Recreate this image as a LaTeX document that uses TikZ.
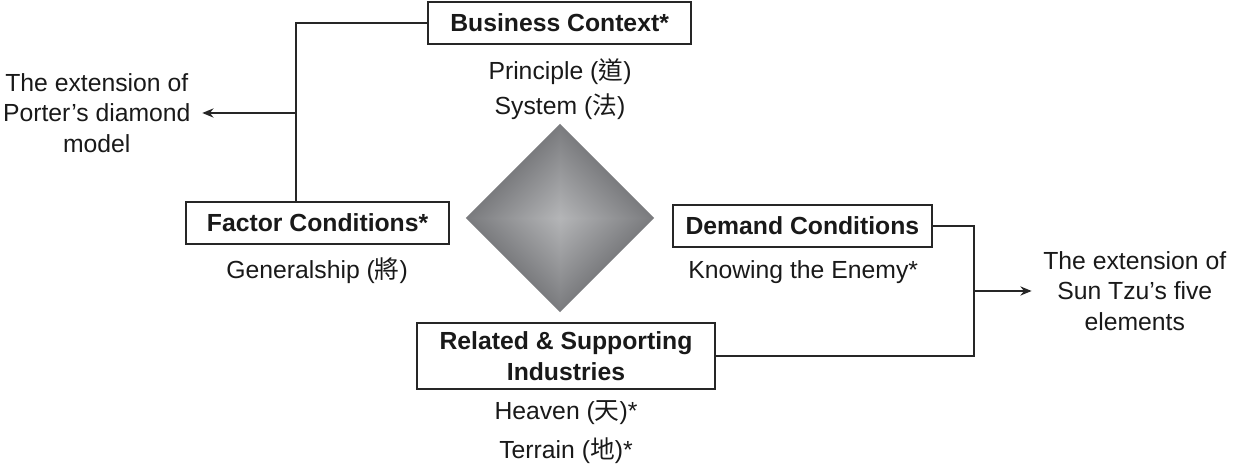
\documentclass[tikz,border=0pt]{standalone}
\usepackage{fontspec}
\setmainfont{Liberation Sans}
\newfontfamily\cjk{Noto Sans CJK TC}
\usetikzlibrary{positioning,arrows.meta,shapes.geometric}
\definecolor{pyrLight}{HTML}{B4B5B7}
\definecolor{pyrDark}{HTML}{7A7B7E}

\begin{document}
\begin{tikzpicture}[>={Stealth[length=8pt,width=6.5pt]}, line width=1.3pt, draw=black!85, text=black!90, font=\fontsize{17.6}{21.8}\selectfont]
	\tikzstyle{elembox}=[rectangle,draw=black!85,line width=1.3pt,font=\fontsize{17.6}{21.8}\selectfont\bfseries,minimum height=1.05cm,inner sep=2pt,align=center]
	\tikzstyle{elemtext}=[inner sep=1pt]
	\tikzstyle{exttext}=[align=center,inner xsep=0.27cm]
	\useasboundingbox (0,0) rectangle (30.85,11.725);

	%diamond, four shaded faces
	\foreach \r in {45,135,225,315}{
		\begin{scope}[transform canvas={shift={(14.0,6.275)},rotate=\r}]
			\shade[top color=pyrLight,bottom color=pyrDark] (0,0) -- (-1.662,-1.662) -- (1.662,-1.662) -- cycle;
		\end{scope}
	}

	%business context
	\node[elembox,minimum width=6.58cm] (business) at (13.99,11.16) {Business Context*};
	\node[elemtext] (principle) at (14.0,9.925) {Principle ({\cjk 道})};
	\node[elemtext] (system) at (14.0,9.05) {System ({\cjk 法})};

	%factor conditions
	\node[elembox,minimum width=6.58cm] (factor) at (7.94,6.15) {Factor Conditions*};
	\node[elemtext] (generalship) at (7.93,4.95) {Generalship ({\cjk 將})};

	%demand conditions
	\node[elembox,minimum width=6.48cm] (demand) at (20.06,6.075) {Demand Conditions};
	\node[elemtext] (enemy) at (20.08,4.925) {Knowing the Enemy*};

	%related industries
	\node[elembox,minimum width=7.45cm,minimum height=1.65cm] (related) at (14.15,2.825) {Related \& Supporting\\Industries};
	\node[elemtext] (heaven) at (14.15,1.4) {Heaven ({\cjk 天})*};
	\node[elemtext] (terrain) at (14.15,0.45) {Terrain ({\cjk 地})*};

	%porter extension
	\node[exttext] (porterExt) at (2.42,8.9) {The extension of\\Porter’s diamond\\model};
	\coordinate (leftJoin) at (7.4,8.9);
	\draw (leftJoin |- factor.north) |- (business.west);
	\draw[->] (leftJoin) -- (porterExt.east);

	%sun tzu extension
	\node[exttext] (sunTzuExt) at (28.37,4.45) {The extension of\\Sun Tzu’s five\\elements};
	\coordinate (rightJoin) at (24.35,4.45);
	\draw (demand.east) -| (rightJoin) |- (related.east);
	\draw[->] (rightJoin) -- (sunTzuExt.west);

\end{tikzpicture}
\end{document}
